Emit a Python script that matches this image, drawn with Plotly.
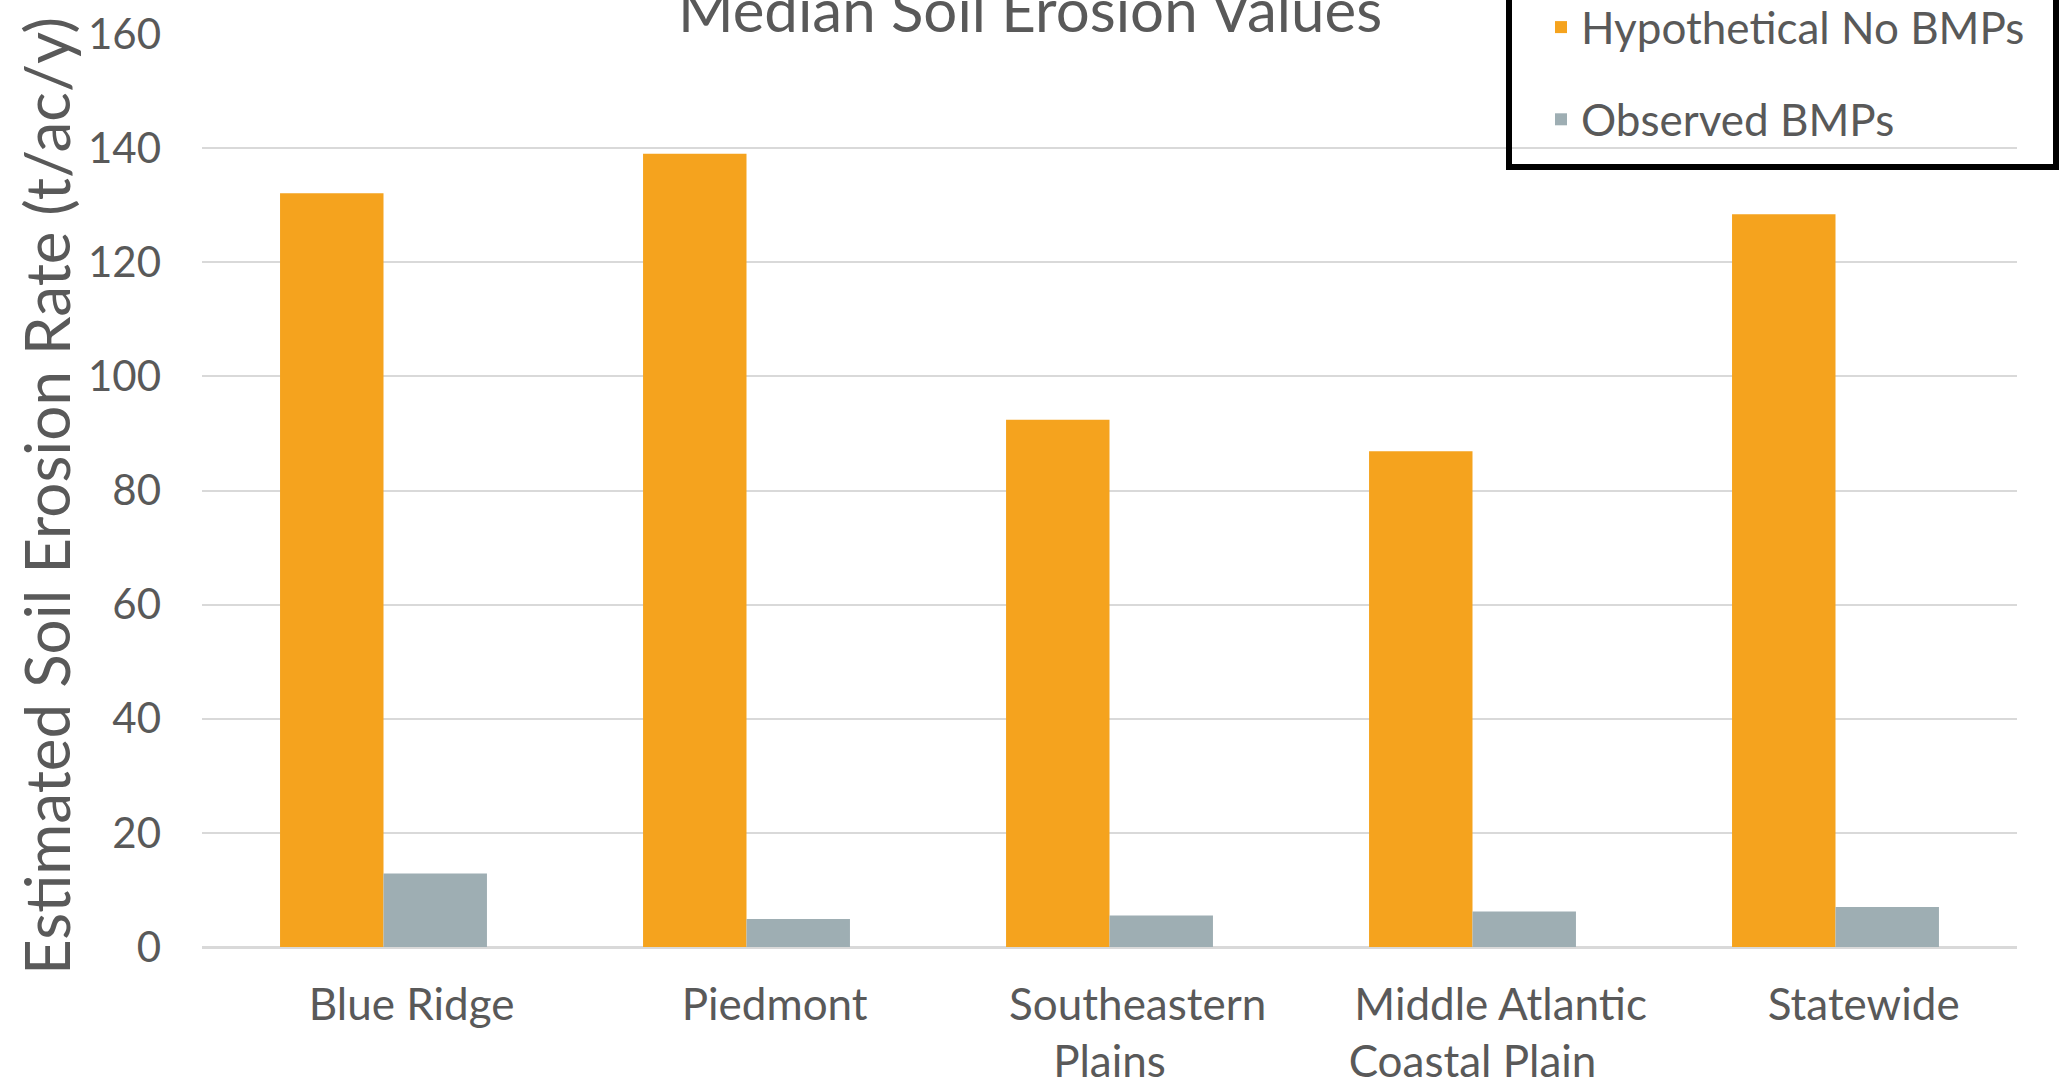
import plotly.graph_objects as go

categories = ["Blue Ridge", "Piedmont", "Southeastern<br>Plains", "Middle Atlantic<br>Coastal Plain", "Statewide"]
no_bmps = [132.1, 139.0, 92.4, 86.9, 128.4]
observed_bmps = [12.9, 4.9, 5.5, 6.2, 7.0]
y_ticks = [0, 20, 40, 60, 80, 100, 120, 140, 160]
y_title = "Estimated Soil Erosion Rate (t/ac/y)"

W_FIG, H_FIG = 2062, 1081
L, R, T, B = 202, 2017, 34, 947
PW, PH = R - L, B - T

def px_x(x):
    return (x - L) / PW

def px_y(y):
    return (B - y) / PH

TEXT = "#595959"
FONT = "Lato"
PAD = "\u00a0" * 5

# first line of each category label is set off to the right, as in the original
tick_text = []
for c in categories:
    parts = c.split("<br>")
    parts[0] = PAD + parts[0]
    tick_text.append("<br>".join(parts))

fig = go.Figure()
fig.add_trace(go.Bar(x=categories, y=no_bmps, name="Hypothetical No BMPs",
                     marker=dict(color="#F5A31E", line=dict(width=0)), legendgroup="a"))
fig.add_trace(go.Bar(x=categories, y=observed_bmps, name="Observed BMPs",
                     marker=dict(color="#9EAEB3", line=dict(width=0)), legendgroup="b"))

fig.update_layout(
    width=W_FIG, height=H_FIG,
    paper_bgcolor="white", plot_bgcolor="white",
    margin=dict(l=L, r=W_FIG - R, t=T, b=H_FIG - B, autoexpand=False),
    barmode="group", bargap=0.43, bargroupgap=0,
    font=dict(family=FONT, color=TEXT),
    title=dict(text="Median Soil Erosion Values", x=1030 / W_FIG, xref="container",
               xanchor="center",
               y=1 - 11 / H_FIG, yref="container", yanchor="middle",
               font=dict(size=60, color=TEXT, family=FONT)),
    legend=dict(x=px_x(1541), y=px_y(-8), xanchor="left", yanchor="top",
                bgcolor="rgba(0,0,0,0)", borderwidth=0,
                font=dict(size=44, color=TEXT, family=FONT),
                tracegroupgap=32, traceorder="grouped"),
    shapes=[dict(type="rect", xref="paper", yref="paper",
                 x0=px_x(1509), x1=px_x(2056), y0=px_y(167), y1=px_y(-20),
                 line=dict(color="black", width=6), fillcolor="rgba(0,0,0,0)",
                 layer="above")],
    annotations=[dict(text=y_title, textangle=-90, xref="paper", yref="paper",
                      x=px_x(46), y=px_y(496), xanchor="center", yanchor="middle",
                      showarrow=False, font=dict(size=62, color=TEXT, family=FONT))],
)

fig.update_xaxes(
    showgrid=False, showline=False, ticks="",
    tickmode="array", tickvals=categories, ticktext=tick_text,
    tickfont=dict(size=44, color=TEXT, family=FONT),
    ticklabelstandoff=28,
    ticklabeloverflow="allow",
)
fig.update_yaxes(
    range=[0, 160], tickvals=y_ticks, ticktext=[str(v) for v in y_ticks],
    showgrid=True, gridcolor="#D9D9D9", gridwidth=2,
    zeroline=True, zerolinecolor="#D9D9D9", zerolinewidth=3,
    showline=False, ticks="",
    tickfont=dict(size=42, color=TEXT, family=FONT),
    ticklabelstandoff=40,
    ticklabeloverflow="allow",
)

fig.write_html("out.html", config={"displayModeBar": False},
               post_script="document.body.style.margin='0';")
